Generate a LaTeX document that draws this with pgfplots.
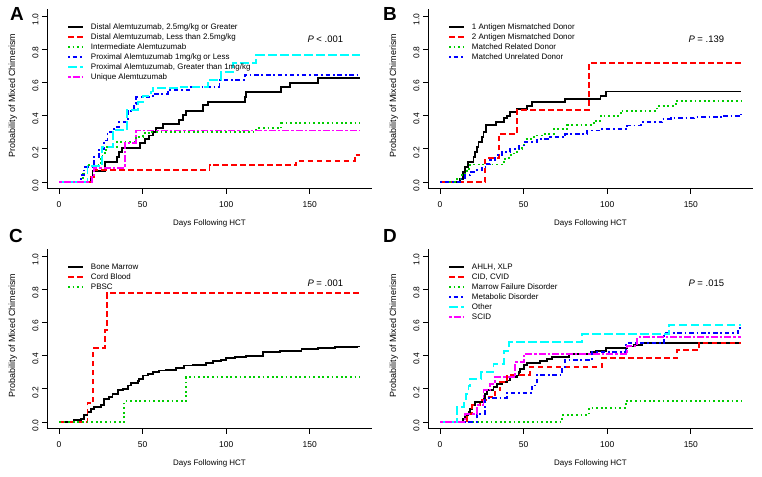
\documentclass[border=0pt]{standalone}
\usepackage{pgfplots}
\pgfplotsset{compat=1.18}
\usepackage{fontspec}
\setmainfont{Liberation Sans}
\definecolor{rred}{RGB}{255,0,0}
\definecolor{rgreen}{RGB}{0,205,0}
\definecolor{rblue}{RGB}{0,0,255}
\definecolor{rcyan}{RGB}{0,255,255}
\definecolor{rmag}{RGB}{255,0,255}
\tikzset{
  s1/.style={black, line width=1.9bp},
  s2/.style={rred, line width=1.9bp, dash pattern=on 5.5bp off 3.5bp},
  s3/.style={rgreen, line width=1.9bp, dash pattern=on 1.8bp off 2.8bp},
  s4/.style={rblue, line width=1.9bp, dash pattern=on 1.8bp off 2.8bp on 4.5bp off 2.8bp},
  s5/.style={rcyan, line width=1.9bp, dash pattern=on 8.5bp off 3.5bp},
  s6/.style={rmag, line width=1.9bp, dash pattern=on 2.5bp off 2bp on 7bp off 2bp},
}
\pgfplotsset{
  panel/.style={
    width=325bp, height=179.2bp, scale only axis,
    xmin=-7.2, xmax=187.2, ymin=-0.04, ymax=1.04,
    axis x line*=bottom, axis y line*=left,
    x axis line style={-, line width=0.7bp}, y axis line style={-, line width=0.7bp},
    every tick/.style={black, line width=0.7bp},
    xtick={0,50,100,150}, ytick={0,0.2,0.4,0.6,0.8,1},
    tick align=outside, major tick length=5bp,
    /pgf/number format/assume math mode=true,
    tick label style={font=\fontsize{8.5}{10}\selectfont},
    xticklabel style={yshift=-4bp},
    yticklabel style={rotate=90, anchor=south, xshift=-3.5bp, /pgf/number format/.cd, fixed, fixed zerofill, precision=1},
    xlabel={Days Following HCT}, ylabel={Probability of Mixed Chimerism},
    every axis x label/.style={at={(axis description cs:0.5,-0.194)}, anchor=center, font=\fontsize{8}{10}\selectfont},
    every axis y label/.style={at={(axis description cs:-0.105,0.52)}, anchor=center, rotate=90, font=\fontsize{9}{10}\selectfont},
    every axis plot/.append style={const plot, mark=none},
    legend cell align=left,
    legend image code/.code={\draw[##1] (0bp,0bp) -- (15bp,0bp);},
    legend style={at={(axis description cs:0.052,0.935)}, anchor=north west, draw=none, fill=none,
      font=\fontsize{8}{9}\selectfont, row sep=2.5bp,
      nodes={inner sep=0pt, text height=6bp, text depth=1.5bp},
      /tikz/every odd column/.append style={column sep=7bp}},
  }
}
\begin{document}
\begin{tikzpicture}
\path[use as bounding box] (0,0) rectangle (762bp,477bp);
% ---------------- Panel A
\begin{axis}[panel, at={(47bp,288.4bp)}, anchor=south west]
\addplot[s1] coordinates {(0,0)(19,0.03)(20,0.068)(27.5,0.122)(34.5,0.152)(36,0.183)(37.5,0.207)(48.5,0.233)(51.5,0.257)(54,0.28)(56,0.30)(58,0.323)(62,0.349)(72,0.375)(74,0.404)(76,0.43)(86,0.464)(89,0.484)(111,0.514)(112,0.544)(133,0.57)(138,0.598)(155,0.625)(180,0.625)};
\addlegendentry{Distal Alemtuzumab, 2.5mg/kg or Greater}
\addplot[s2] coordinates {(0,0)(19,0.03)(21,0.07)(90,0.10)(142,0.128)(177,0.163)(180,0.163)};
\addlegendentry{Distal Alemtuzumab, Less than 2.5mg/kg}
\addplot[s3] coordinates {(0,0)(14.5,0.05)(17,0.10)(25,0.14)(26,0.173)(28,0.213)(34.5,0.243)(46,0.273)(50,0.293)(55,0.303)(118,0.323)(133,0.353)(180,0.353)};
\addlegendentry{Intermediate Alemtuzumab}
\addplot[s4] coordinates {(0,0)(13,0.04)(15,0.09)(21,0.15)(24,0.20)(27,0.25)(29,0.30)(33,0.33)(36,0.36)(40,0.38)(41,0.43)(45,0.47)(46,0.51)(56,0.53)(65,0.555)(78,0.575)(96,0.614)(111,0.645)(180,0.645)};
\addlegendentry{Proximal Alemtuzumab 1mg/kg or Less}
\addplot[s5] coordinates {(0,0)(17,0.096)(25.5,0.213)(32.3,0.313)(40.5,0.434)(47,0.48)(50,0.52)(55,0.545)(56,0.565)(72,0.575)(89,0.614)(97,0.664)(104,0.715)(118,0.765)(180,0.765)};
\addlegendentry{Proximal Alemtuzumab, Greater than 1mg/kg}
\addplot[s6] coordinates {(0,0)(19.5,0.04)(21,0.082)(39.5,0.237)(46,0.31)(180,0.31)};
\addlegendentry{Unique Alemtuzumab}
\node[anchor=east, font=\fontsize{9.5}{11}\selectfont] at (axis cs:172,0.86) {\textit{P} < .001};
\end{axis}
% ---------------- Panel B
\begin{axis}[panel, at={(428bp,288.4bp)}, anchor=south west]
\addplot[s1] coordinates {(0,0)(12,0.02)(14,0.06)(15,0.09)(16.5,0.12)(20,0.15)(21,0.18)(22,0.21)(23,0.24)(25,0.27)(26,0.30)(27.5,0.343)(33.5,0.363)(38,0.383)(40,0.40)(42,0.42)(46,0.44)(52,0.46)(55,0.484)(75,0.50)(96,0.52)(99,0.545)(180,0.545)};
\addlegendentry{1 Antigen Mismatched Donor}
\addplot[s2] coordinates {(0,0)(27,0.143)(35,0.288)(46,0.432)(89,0.715)(180,0.715)};
\addlegendentry{2 Antigen Mismatched Donor}
\addplot[s3] coordinates {(0,0)(10,0.02)(13,0.05)(16,0.08)(18,0.105)(37,0.12)(39,0.14)(41,0.16)(44,0.18)(47,0.20)(49,0.22)(50,0.24)(51,0.26)(56,0.28)(62,0.29)(68,0.32)(76,0.345)(92,0.37)(96,0.40)(108,0.43)(130,0.46)(141,0.49)(180,0.49)};
\addlegendentry{Matched Related Donor}
\addplot[s4] coordinates {(0,0)(12,0.02)(15,0.04)(18,0.06)(22,0.07)(25,0.09)(28,0.11)(30,0.13)(33,0.16)(37,0.18)(42,0.20)(47,0.22)(50,0.24)(58,0.26)(66,0.27)(75,0.29)(88,0.31)(97,0.32)(112,0.34)(120,0.36)(133,0.38)(138,0.385)(152,0.39)(168,0.40)(180,0.41)};
\addlegendentry{Matched Unrelated Donor}
\node[anchor=east, font=\fontsize{9.5}{11}\selectfont] at (axis cs:172,0.86) {\textit{P} = .139};
\end{axis}
% ---------------- Panel C
\begin{axis}[panel, at={(47bp,48.4bp)}, anchor=south west]
\addplot[s1] coordinates {(0,0)(9,0.01)(13,0.02)(15,0.04)(17,0.06)(19,0.08)(21,0.09)(25,0.10)(27,0.14)(30,0.15)(32,0.17)(35,0.19)(38,0.20)(41,0.22)(43,0.235)(47,0.245)(48,0.26)(50,0.28)(53,0.29)(56,0.30)(60,0.31)(64,0.315)(70,0.325)(75,0.34)(80,0.345)(88,0.355)(92,0.365)(97,0.375)(100,0.385)(105,0.39)(112,0.395)(118,0.40)(122,0.42)(132,0.425)(137,0.43)(145,0.44)(155,0.445)(165,0.45)(178,0.455)(180,0.455)};
\addlegendentry{Bone Marrow}
\addplot[s2] coordinates {(0,0)(17,0.113)(20.5,0.444)(27.5,0.555)(28.5,0.775)(180,0.775)};
\addlegendentry{Cord Blood}
\addplot[s3] coordinates {(0,0)(39,0.125)(76,0.27)(180,0.27)};
\addlegendentry{PBSC}
\node[anchor=east, font=\fontsize{9.5}{11}\selectfont] at (axis cs:172,0.835) {\textit{P} = .001};
\end{axis}
% ---------------- Panel D
\begin{axis}[panel, at={(428bp,48.4bp)}, anchor=south west]
\addplot[s1] coordinates {(0,0)(14,0.02)(15,0.04)(17,0.06)(18,0.08)(19,0.10)(21,0.12)(26,0.14)(27,0.17)(28,0.19)(32,0.21)(34,0.23)(37,0.24)(40,0.25)(42,0.27)(46,0.28)(47,0.30)(48,0.32)(50,0.345)(52,0.355)(60,0.37)(64,0.38)(67,0.39)(77,0.41)(90,0.42)(93,0.43)(99,0.444)(112,0.455)(116,0.465)(121,0.478)(180,0.478)};
\addlegendentry{AHLH, XLP}
\addplot[s2] coordinates {(0,0)(16,0.05)(19,0.10)(24,0.13)(29,0.15)(33,0.19)(36,0.24)(40,0.283)(53.8,0.333)(97,0.384)(142,0.434)(155,0.478)(180,0.478)};
\addlegendentry{CID, CVID}
\addplot[s3] coordinates {(0,0)(73,0.04)(89,0.085)(111,0.128)(180,0.128)};
\addlegendentry{Marrow Failure Disorder}
\addplot[s4] coordinates {(0,0)(22,0.05)(27,0.143)(40,0.175)(55,0.22)(58,0.283)(73,0.33)(74.5,0.373)(91,0.423)(111,0.474)(134,0.534)(178,0.566)(180,0.566)};
\addlegendentry{Metabolic Disorder}
\addplot[s5] coordinates {(0,0)(10,0.09)(14.5,0.13)(15.5,0.17)(17,0.215)(18,0.26)(24.5,0.30)(32,0.35)(38.4,0.43)(41.4,0.48)(85,0.53)(137,0.585)(180,0.585)};
\addlegendentry{Other}
\addplot[s6] coordinates {(0,0)(15,0.05)(22,0.10)(26,0.19)(30,0.23)(33,0.27)(45,0.36)(50,0.41)(112,0.46)(118,0.51)(180,0.51)};
\addlegendentry{SCID}
\node[anchor=east, font=\fontsize{9.5}{11}\selectfont] at (axis cs:172,0.835) {\textit{P} = .015};
\end{axis}
% panel letters
\node[font=\fontsize{19}{20}\selectfont\bfseries] at (17bp,463bp) {A};
\node[font=\fontsize{19}{20}\selectfont\bfseries] at (390bp,463bp) {B};
\node[font=\fontsize{19}{20}\selectfont\bfseries] at (16bp,241bp) {C};
\node[font=\fontsize{19}{20}\selectfont\bfseries] at (390bp,241bp) {D};
\end{tikzpicture}
\end{document}
